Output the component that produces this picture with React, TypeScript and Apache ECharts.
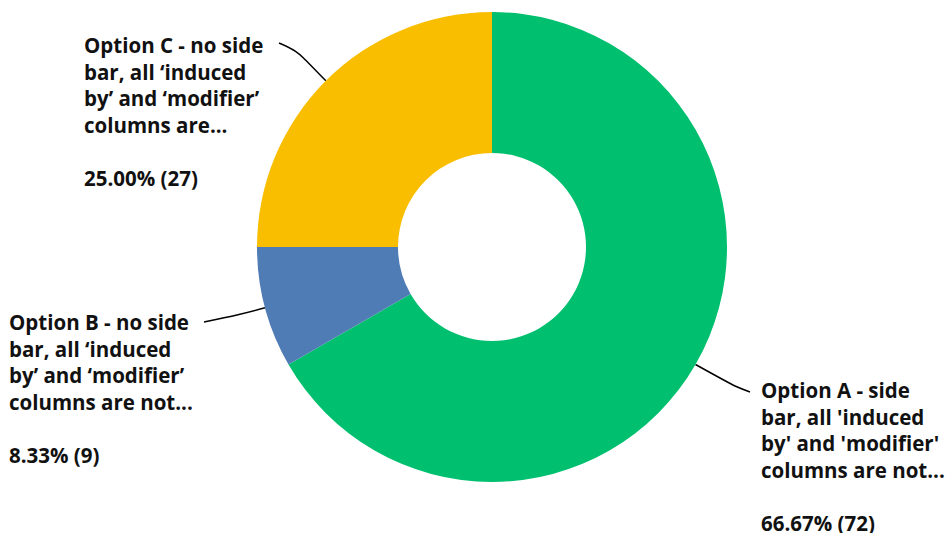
import React, { useEffect, useRef } from "react";
import * as echarts from "echarts";

const names = [
  "Option A - side\nbar, all 'induced\nby' and 'modifier'\ncolumns are not...",
  "Option B - no side\nbar, all \u2018induced\nby\u2019 and \u2018modifier\u2019\ncolumns are not...",
  "Option C - no side\nbar, all \u2018induced\nby\u2019 and \u2018modifier\u2019\ncolumns are...",
];
const counts = [72, 9, 27];
const colors = ["#00BF6F", "#507CB6", "#F9BE00"];
// label block positions (left, top) and label-line bend points
const labelPos = [
  { x: 761, y: 377, mid: [736, 387], end: [750, 392] },
  { x: 9, y: 309, mid: [238, 315], end: [204, 322] },
  { x: 84, y: 32, mid: [296, 50], end: [279, 43] },
];

export default function App() {
  const ref = useRef<HTMLDivElement>(null);
  useEffect(() => {
    const chart = echarts.init(ref.current!, null, { renderer: "svg" });
    const total = counts.reduce((a, b) => a + b, 0);
    const base = {
      fontFamily: "Open Sans",
      fontWeight: "bold",
      fontSize: 20.5,
      color: "#111",
      align: "left",
    };
    chart.setOption({
      animation: false,
      series: [
        {
          type: "pie",
          center: [492, 247],
          radius: [94, 235],
          startAngle: 90,
          clockwise: true,
          avoidLabelOverlap: false,
          data: names.map((n, i) => ({
            name: n,
            value: counts[i],
            itemStyle: { color: colors[i] },
          })),
          label: {
            show: true,
            position: "outside",
            formatter: (p: any) =>
              `{t|${p.name}}\n{gap|}\n{p|${((p.value / total) * 100).toFixed(2)}% (${p.value})}`,
            rich: {
              t: { ...base, lineHeight: 26.5 },
              gap: { ...base, lineHeight: 31.75 },
              p: { ...base, lineHeight: 16 },
            },
            align: "left",
          },
          labelLine: {
            show: true,
            smooth: 0.4,
            lineStyle: { color: "#000", width: 1.5 },
          },
          labelLayout: (params: any) => {
            const i = params.dataIndex;
            const lp = labelPos[i];
            const start = params.labelLinePoints
              ? params.labelLinePoints[0]
              : [0, 0];
            return {
              x: lp.x,
              y: lp.y,
              align: "left",
              verticalAlign: "top",
              labelLinePoints: [start, lp.mid, lp.end],
            };
          },
        },
      ],
    });
    return () => chart.dispose();
  }, []);
  return (
    <div
      ref={ref}
      style={{ position: "fixed", left: 0, top: 0, width: 950, height: 533, background: "#fff" }}
    />
  );
}
